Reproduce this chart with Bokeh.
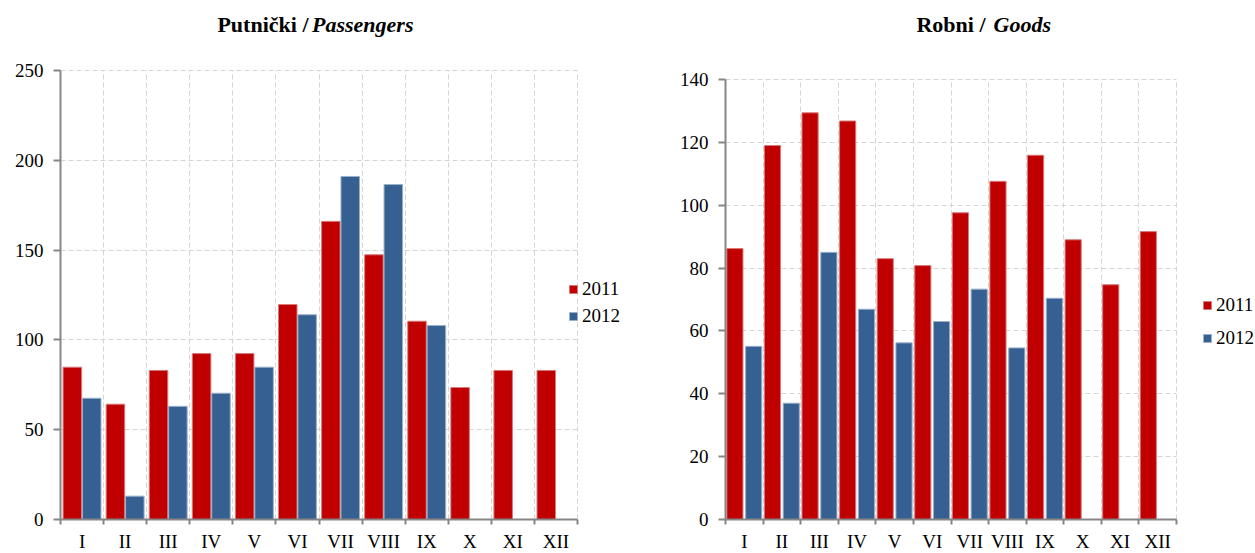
from bokeh.plotting import figure
from bokeh.models import ColumnDataSource, FixedTicker, Legend, LegendItem, Label, Range1d
from bokeh.layouts import row
from bokeh.embed import file_html
from bokeh.resources import INLINE

# ---------------- data ----------------
months = ["I", "II", "III", "IV", "V", "VI", "VII", "VIII", "IX", "X", "XI", "XII"]
years = ["2011", "2012"]

passengers_2011 = [84.8, 64.2, 83.0, 92.4, 92.4, 119.7, 166.0, 147.4, 110.4, 73.5, 83.0, 83.0]
passengers_2012 = [67.5, 13.0, 63.0, 70.3, 84.8, 114.0, 191.0, 186.5, 108.0]

goods_2011 = [86.2, 119.0, 129.4, 126.8, 83.0, 80.8, 97.6, 107.6, 115.9, 89.0, 74.7, 91.6]
goods_2012 = [55.1, 37.0, 85.0, 66.9, 56.2, 63.0, 73.3, 54.6, 70.4]

passengers_yticks = [0, 50, 100, 150, 200, 250]
goods_yticks = [0, 20, 40, 60, 80, 100, 120, 140]

title_left_plain, title_left_italic = "Putnički /", "Passengers"
title_right_plain, title_right_italic = "Robni /", "Goods"

# ---------------- style ----------------
RED = "#C00000"
RED_LINE = "#D77A7A"
BLUE = "#376092"
BLUE_LINE = "#9AB0CB"
GRID = "#D4D4D4"
AXIS = "#868686"
FONT = "Liberation Serif"

FRAME_TOP = 10          # page y of top of the (extended) frame
AXIS_BOTTOM = 519       # page y of the value-0 line
FIG_BOTTOM = 553
TITLE_BASELINE = 23.5   # page y of title baseline (as rendered)


def make_chart(v2011, v2012, yticks, fig_x0, fig_x1, ax_x0, ax_x1, ax_top,
               off, bw, leg_loc, leg_spacing, tplain, titalic, tx_plain, tx_italic):
    n = len(months)
    ppx = (ax_x1 - ax_x0) / n
    ppy = (AXIS_BOTTOM - ax_top) / (yticks[-1] - yticks[0])
    x_end = n + (fig_x1 - ax_x1) / ppx
    y_end = yticks[-1] + (ax_top - FRAME_TOP) / ppy
    fw = fig_x1 - ax_x0
    fh = AXIS_BOTTOM - FRAME_TOP

    p = figure(frame_width=fw, frame_height=fh, output_backend="svg",
               toolbar_location=None, title=None,
               x_range=Range1d(0, x_end), y_range=Range1d(yticks[0], y_end),
               min_border_left=ax_x0 - fig_x0, min_border_right=0,
               min_border_top=FRAME_TOP, min_border_bottom=FIG_BOTTOM - AXIS_BOTTOM)
    p.outline_line_color = None
    p.background_fill_color = "white"
    p.border_fill_color = "white"

    centers = [i + 0.5 for i in range(n)]
    s1 = ColumnDataSource(dict(x=[c - off for c in centers[:len(v2011)]], top=v2011))
    s2 = ColumnDataSource(dict(x=[c + off for c in centers[:len(v2012)]], top=v2012))

    # grid
    ybound = (yticks[0], yticks[-1])
    xbound = (0, n)
    p.xgrid.ticker = FixedTicker(ticks=list(range(1, n + 1)))
    p.ygrid.ticker = FixedTicker(ticks=yticks[1:])
    p.xgrid.bounds = xbound
    p.ygrid.bounds = ybound
    ok = True
    try:
        p.xgrid.cross_bounds = ybound
        p.ygrid.cross_bounds = xbound
    except Exception:
        ok = False
    if ok:
        for g in (p.xgrid, p.ygrid):
            g.grid_line_color = GRID
            g.grid_line_dash = "5 3"
            g.grid_line_width = 1
    else:
        p.xgrid.grid_line_color = None
        p.ygrid.grid_line_color = None
        xs = list(range(1, n + 1))
        p.segment(x0=xs, x1=xs, y0=[yticks[0]] * len(xs), y1=[yticks[-1]] * len(xs),
                  line_color=GRID, line_dash="5 3", line_width=1)
        ys = yticks[1:]
        p.segment(x0=[0] * len(ys), x1=[n] * len(ys), y0=ys, y1=ys,
                  line_color=GRID, line_dash="5 3", line_width=1)

    r1 = p.vbar(x="x", top="top", bottom=0, width=bw, source=s1,
                fill_color=RED, line_color=RED_LINE, line_width=1)
    r2 = p.vbar(x="x", top="top", bottom=0, width=bw, source=s2,
                fill_color=BLUE, line_color=BLUE_LINE, line_width=1)

    # x axis: labels at centres, small ticks at boundaries
    p.xaxis.ticker = FixedTicker(ticks=centers, minor_ticks=list(range(n + 1)))
    p.xaxis.major_label_overrides = {c: m for c, m in zip(centers, months)}
    p.xaxis.bounds = xbound
    p.xaxis.major_tick_out = 0
    p.xaxis.major_tick_in = 0
    p.xaxis.minor_tick_out = 5
    p.xaxis.minor_tick_in = 0
    p.xaxis.major_label_standoff = 6

    p.yaxis.ticker = FixedTicker(ticks=yticks, minor_ticks=[])
    p.yaxis.bounds = ybound
    p.yaxis.major_tick_out = 7
    p.yaxis.major_tick_in = 0
    p.yaxis.minor_tick_out = 0
    p.yaxis.minor_tick_in = 0
    p.yaxis.major_label_standoff = 10

    for ax in (p.xaxis, p.yaxis):
        ax.axis_line_color = AXIS
        ax.axis_line_width = 2
        ax.major_tick_line_color = AXIS
        ax.major_tick_line_width = 2
        ax.minor_tick_line_color = AXIS
        ax.minor_tick_line_width = 2
        ax.major_label_text_font = FONT
        ax.major_label_text_font_size = "19px"
        ax.major_label_text_color = "black"

    legend = Legend(items=[LegendItem(label=years[0], renderers=[r1]),
                           LegendItem(label=years[1], renderers=[r2])],
                    location=leg_loc)
    legend.label_text_font = FONT
    legend.label_text_font_size = "19px"
    legend.label_text_color = "black"
    legend.glyph_width = 10
    legend.glyph_height = 10
    legend.label_height = 22
    legend.label_standoff = 4
    legend.spacing = leg_spacing
    legend.padding = 0
    legend.margin = 0
    legend.border_line_color = None
    legend.background_fill_alpha = 0
    p.add_layout(legend)

    base_y = AXIS_BOTTOM - TITLE_BASELINE
    p.add_layout(Label(x=tx_plain - ax_x0, y=base_y, x_units="screen", y_units="screen",
                       text=tplain, text_font=FONT, text_font_size="22px",
                       text_font_style="bold", text_align="right",
                       text_color="black", text_baseline="alphabetic"))
    p.add_layout(Label(x=tx_italic - ax_x0, y=base_y, x_units="screen", y_units="screen",
                       text=titalic, text_font=FONT, text_font_size="22px",
                       text_font_style="bold italic", text_align="left",
                       text_color="black", text_baseline="alphabetic"))
    return p


# left: axes box 60..577 x 70..519 (page px); figure spans 0..638
p1 = make_chart(passengers_2011, passengers_2012, passengers_yticks,
                0, 638, 60, 577, 70, 0.225, 0.43, (508, 192), 5,
                title_left_plain, title_left_italic, 308, 311.5)
# right: axes box 725..1176 x 79..519; figure spans 638..1255
p2 = make_chart(goods_2011, goods_2012, goods_yticks,
                638, 1255, 725, 1176, 79, 0.25, 0.43, (477, 170), 11,
                title_right_plain, title_right_italic, 985, 993)

layout = row(p1, p2)
open("out.html", "w").write(file_html(layout, INLINE))
